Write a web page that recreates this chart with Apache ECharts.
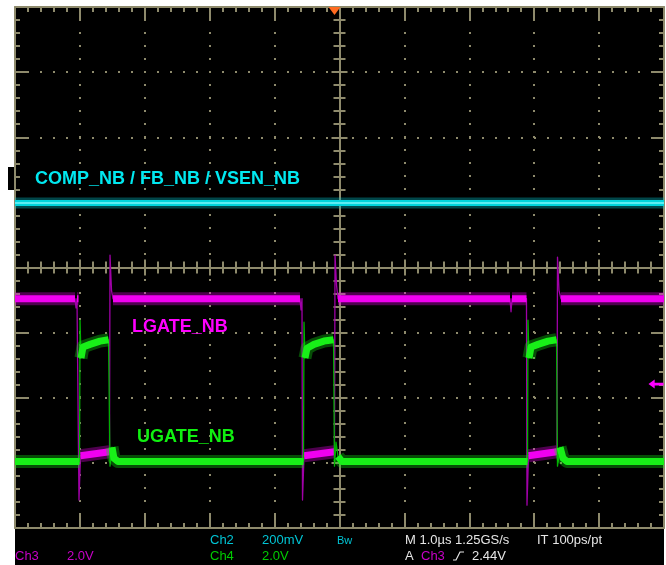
<!DOCTYPE html>
<html><head><meta charset="utf-8">
<script src="https://cdn.jsdelivr.net/npm/echarts@6/dist/echarts.min.js"></script>
<style>html,body{margin:0;padding:0;background:#fff}#c{width:666px;height:565px}</style>
</head><body><div id="c"></div>
<script>
// ---- data (time in µs, 1 µs/div; level in screen divisions) ----
const ch2Time = [-5, 5];
const ch2Div  = [0.99, 0.99];

const ch3Time = [-5, -4.075, -4.06, -4.045, -4.022, -4.014, -3.991, -3.544, -3.536, -3.513, -3.49,
  -0.609, -0.593, -0.578, -0.57, -0.547, -0.077, -0.069, -0.046, -0.023,
  2.627, 2.643, 2.658, 2.881, 2.889, 2.912, 3.351, 3.359, 3.382, 3.413, 5];
const ch3Div  = [-0.48, -0.48, -0.62, -0.48, -0.48, -3.57, -2.89, -2.83, 0.19, -0.35, -0.48,
  -0.48, -0.65, -0.48, -3.57, -2.89, -2.83, 0.19, -0.27, -0.48,
  -0.48, -0.68, -0.48, -0.48, -3.65, -2.89, -2.83, 0.16, -0.35, -0.48, -0.48];

const ch4Time = [-5, -4.006, -3.998, -3.983, -3.952, -3.844, -3.69, -3.559, -3.536, -3.505, -3.475, -3.413,
  -0.555, -0.547, -0.532, -0.501, -0.393, -0.239, -0.092, -0.077, -0.054, -0.023, 0.039,
  2.897, 2.904, 2.92, 2.951, 3.059, 3.213, 3.344, 3.359, 3.398, 3.444, 3.505, 5];
const ch4Div  = [-2.98, -2.98, -0.81, -1.39, -1.22, -1.18, -1.13, -1.11, -3.05, -2.76, -2.93, -2.98,
  -2.98, -0.84, -1.39, -1.24, -1.18, -1.13, -1.11, -3.05, -2.68, -2.9, -2.98,
  -2.98, -0.81, -1.39, -1.22, -1.18, -1.13, -1.11, -3.05, -2.76, -2.93, -2.98, -2.98];

const triggerTime = -0.077;
const triggerLevelDiv = -1.79;

const traceLabels = ['COMP_NB / FB_NB / VSEN_NB', 'LGATE_NB', 'UGATE_NB'];
const statusRow1 = ['Ch2', '200mV', 'Bw', 'M 1.0\u00b5s 1.25GS/s', 'IT 100ps/pt'];
const statusRow2 = ['Ch3', '2.0V', 'Ch4', '2.0V', 'A', 'Ch3', '2.44V'];

// ---- helpers ----
function pts(t, v) { return t.map((x, i) => [x, v[i]]); }
// keep only the (near-)flat stretches of a trace, to draw its noise band
function band(t, v, thr) {
  const out = [];
  for (let i = 0; i < t.length - 1; i++) {
    if (Math.abs(v[i + 1] - v[i]) < thr) {
      const last = out[out.length - 1];
      if (!last || last[0] === '-' || last[0] !== t[i]) out.push([t[i], v[i]]);
      out.push([t[i + 1], v[i + 1]]);
    } else if (out.length && out[out.length - 1][0] !== '-') {
      out.push(['-', '-']);
    }
  }
  return out;
}

const G = '#8e8a6c';
const FONT = '"Liberation Sans", Arial, sans-serif';

function borderX(pos, split) {
  return {
    type: 'value', min: -5, max: 5, interval: 1, position: pos,
    axisLine: { show: true, onZero: false, lineStyle: { color: G, width: 2 } },
    axisTick: { show: true, inside: true, length: 13, lineStyle: { color: G, width: 2 } },
    minorTick: { show: true, splitNumber: 5, length: 5, lineStyle: { color: G, width: 2 } },
    axisLabel: { show: false },
    splitLine: { show: split, lineStyle: { color: G, width: 2, type: [2, 11], dashOffset: 1 } }
  };
}
function borderY(pos, split) {
  return {
    type: 'value', min: -4, max: 4, interval: 1, position: pos,
    axisLine: { show: true, onZero: false, lineStyle: { color: G, width: 2 } },
    axisTick: { show: true, inside: true, length: 13, lineStyle: { color: G, width: 2 } },
    minorTick: { show: true, splitNumber: 5, length: 5, lineStyle: { color: G, width: 2 } },
    axisLabel: { show: false },
    splitLine: { show: split, lineStyle: { color: G, width: 2, type: [2, 11], dashOffset: 1 } }
  };
}
function centerX(idx, inside) {
  return {
    type: 'value', min: -5, max: 5, interval: 1, position: 'bottom',
    axisLine: { show: true, onZero: true, onZeroAxisIndex: idx, lineStyle: { color: G, width: 2 } },
    axisTick: { show: true, inside: inside, length: 8, lineStyle: { color: G, width: 2 } },
    minorTick: { show: true, splitNumber: 5, length: 6, lineStyle: { color: G, width: 2 } },
    axisLabel: { show: false }, splitLine: { show: false }
  };
}
function centerY(idx, inside) {
  return {
    type: 'value', min: -4, max: 4, interval: 1, position: 'left',
    axisLine: { show: true, onZero: true, onZeroAxisIndex: idx, lineStyle: { color: G, width: 2 } },
    axisTick: { show: true, inside: inside, length: 8, lineStyle: { color: G, width: 2 } },
    minorTick: { show: true, splitNumber: 5, length: 6, lineStyle: { color: G, width: 2 } },
    axisLabel: { show: false }, splitLine: { show: false }
  };
}

function lineSeries(data, color, width, z, opacity, extra) {
  return Object.assign({
    type: 'line', xAxisIndex: 0, yAxisIndex: 0, data: data, symbol: 'none',
    showSymbol: false, silent: true, animation: false, connectNulls: false, z: z,
    lineStyle: { color: color, width: width, cap: 'butt', join: 'round', opacity: opacity == null ? 1 : opacity }
  }, extra || {});
}

function txt(x, y, text, color, size, bold) {
  return { type: 'text', x: x, y: y, z: 10,
    style: { text: text, fill: color, font: (bold ? 'bold ' : '') + size + 'px ' + FONT,
      align: 'left', verticalAlign: 'middle' } };
}

const ch3Band = band(ch3Time, ch3Div, 0.12);
const ch4Band = band(ch4Time, ch4Div, 0.18);

const chart = echarts.init(document.getElementById('c'), null, { renderer: 'canvas' });
chart.setOption({
  backgroundColor: '#fff',
  animation: false,
  grid: { left: 15, top: 7, width: 649, height: 521, show: true, backgroundColor: '#000',
    borderWidth: 0, containLabel: false, outerBoundsMode: 'none' },
  xAxis: [borderX('bottom', true), borderX('top', false), centerX(0, false), centerX(1, true)],
  yAxis: [borderY('left', true), borderY('right', false), centerY(0, false), centerY(1, true)],
  series: [
    lineSeries(pts(ch3Time, ch3Div), '#a000a8', 1.3, 3, 1, {
      markPoint: {
        silent: true, animation: false, label: { show: false },
        data: [
          { coord: [triggerTime, 4], symbol: 'triangle', symbolRotate: 180, symbolSize: [12, 8],
            symbolOffset: [0, 4], itemStyle: { color: '#ff6a1f' } },
          { coord: [5, triggerLevelDiv], symbol: 'path://M0,5 L7,0 L7,3.5 L17,3.5 L17,6.5 L7,6.5 L7,10 Z',
            symbolSize: [15, 9], symbolOffset: [-8, 0], itemStyle: { color: '#ff00ff' } }
        ]
      }
    }),
    lineSeries(ch3Band, '#e000e0', 13, 4, 0.35),
    lineSeries(ch3Band, '#f000f0', 7, 4),
    lineSeries(pts(ch4Time, ch4Div), '#00b000', 1.3, 5),
    lineSeries(ch4Band, '#10e010', 13, 6, 0.35),
    lineSeries(ch4Band, '#18f018', 7, 6),
    lineSeries(pts(ch2Time, ch2Div), '#00c8d2', 11, 7, 0.35),
    lineSeries(pts(ch2Time, ch2Div), '#00d4dc', 6, 7),
    lineSeries(pts(ch2Time, ch2Div), '#5cecf2', 2, 8)
  ],
  graphic: [
    { type: 'rect', z: 0, shape: { x: 15, y: 528, width: 649, height: 37 }, style: { fill: '#000' } },
    { type: 'rect', z: 0, shape: { x: 8, y: 167, width: 30, height: 23 }, style: { fill: '#000' } },
    txt(35, 179, traceLabels[0], '#00e8f0', 18, true),
    txt(132, 327, traceLabels[1], '#ff00ff', 18, true),
    txt(137, 437, traceLabels[2], '#10f010', 18, true),
    txt(210, 540, statusRow1[0], '#00c4d4', 13),
    txt(262, 540, statusRow1[1], '#00c4d4', 13),
    txt(337, 541, statusRow1[2], '#00c4d4', 11),
    txt(405, 540, statusRow1[3], '#e6e6e6', 13),
    txt(537, 540, statusRow1[4], '#e6e6e6', 13),
    txt(15, 556, statusRow2[0], '#c800c8', 13),
    txt(67, 556, statusRow2[1], '#c800c8', 13),
    txt(210, 556, statusRow2[2], '#00cc00', 13),
    txt(262, 556, statusRow2[3], '#00cc00', 13),
    txt(405, 556, statusRow2[4], '#e6e6e6', 13),
    txt(421, 556, statusRow2[5], '#c800c8', 13),
    { type: 'polyline', z: 10, shape: { points: [[453, 560], [456, 560], [460, 552], [464, 552]] },
      style: { stroke: '#e6e6e6', lineWidth: 1.2, fill: null } },
    txt(472, 556, statusRow2[6], '#e6e6e6', 13)
  ]
});
</script></body></html>
